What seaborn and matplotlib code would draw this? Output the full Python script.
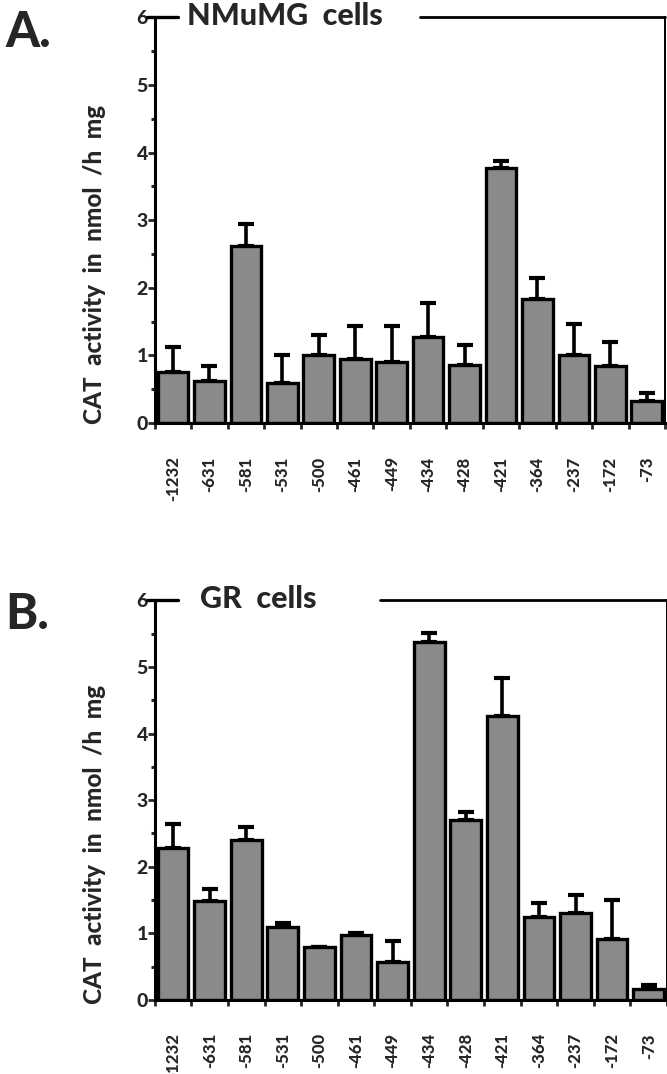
import numpy as np
import pandas as pd
import matplotlib
matplotlib.use("Agg")
import matplotlib.pyplot as plt
from matplotlib import font_manager
import seaborn as sns

sns.set_theme(style="white")

heavy = [f for f in font_manager.fontManager.ttflist
         if f.name in ("Lato", "Inter", "Open Sans", "Roboto", "Noto Sans")
         and isinstance(f.weight, int) and f.weight >= 800 and f.style == "normal"]
names = sorted({(f.name, f.weight) for f in heavy})
if any(n == "Lato" for n, w in names):
    FAM, WT = "Lato", 900
elif names:
    FAM, WT = names[0][0], names[0][1]
else:
    FAM, WT = "Liberation Sans", "bold"
plt.rcParams['font.family'] = [FAM, 'Liberation Sans', 'DejaVu Sans']
plt.rcParams['font.weight'] = WT

positions = ["-1232", "-631", "-581", "-531", "-500", "-461", "-449",
             "-434", "-428", "-421", "-364", "-237", "-172", "-73"]

nmumg_values = [0.75, 0.63, 2.62, 0.60, 1.00, 0.95, 0.90,
                1.27, 0.86, 3.77, 1.84, 1.00, 0.85, 0.33]
nmumg_err = [0.37, 0.22, 0.33, 0.40, 0.30, 0.48, 0.53,
             0.51, 0.29, 0.11, 0.31, 0.47, 0.35, 0.12]

gr_values = [2.28, 1.48, 2.40, 1.10, 0.80, 0.97, 0.57,
             5.37, 2.70, 4.27, 1.25, 1.30, 0.92, 0.16]
gr_err = [0.36, 0.19, 0.19, 0.05, 0.00, 0.03, 0.32,
          0.14, 0.12, 0.56, 0.21, 0.27, 0.58, 0.06]

yticks = [0, 1, 2, 3, 4, 5, 6]
ylabel = "CAT  activity  in  nmol  /h  mg"

fig = plt.figure(figsize=(6.67, 10.74), dpi=100)

panels = [
    ("A.", "NMuMG  cells", nmumg_values, nmumg_err, [0.232, 0.606, 0.765, 0.378], 0.063, 0.52, 0.991),
    ("B.", "GR  cells", gr_values, gr_err, [0.232, 0.069, 0.768, 0.372], 0.088, 0.44, 0.449),
]

for letter, title, vals, errs, rect, title_x, line_start, letter_y in panels:
    ax = fig.add_axes(rect)
    df = pd.DataFrame({"pos": positions, "val": vals})
    sns.barplot(data=df, x="pos", y="val", ax=ax, color="#8a8a8a",
                saturation=1, edgecolor="black", linewidth=2.4, width=0.84,
                errorbar=None)
    centers = [p.get_x() + p.get_width() / 2 for p in ax.patches]
    heights = [p.get_height() for p in ax.patches]
    ax.errorbar(centers, heights, yerr=[np.zeros(len(errs)), errs], fmt="none",
                ecolor="black", elinewidth=2.6, capsize=6, capthick=3, zorder=1)
    for p in ax.patches:
        p.set_zorder(2)

    ax.set_ylim(0, 6)
    ax.set_xlim(-0.5, 13.45)
    ax.set_yticks(yticks)
    ax.set_yticklabels([str(t) for t in yticks])
    ax.set_yticks(np.arange(0.5, 6, 1.0), minor=True)
    ax.tick_params(axis="y", which="major", direction="out", length=5, width=2, pad=0,
                   left=True, labelsize=14)
    ax.tick_params(axis="y", which="minor", direction="out", length=3, width=2.2, left=True)
    for lab in ax.get_yticklabels():
        lab.set_fontweight(WT)

    n = len(positions)
    ax.set_xticks(np.arange(n))
    ax.set_xticklabels(positions)
    ax.tick_params(axis="x", which="major", length=0, pad=24, labelrotation=90,
                   labelsize=12)
    for lab in ax.get_xticklabels():
        lab.set_va("top")
        lab.set_ha("center")
        lab.set_fontweight(WT)
    ax.set_xticks(np.arange(-0.5, n, 1.0), minor=True)
    ax.tick_params(axis="x", which="minor", direction="out", length=4, width=2, bottom=True)

    ax.set_xlabel("")
    ax.set_ylabel("")
    ax.text(-0.118, 0.39, ylabel, transform=ax.transAxes, rotation=90,
            fontsize=17.5, fontweight=WT, ha="center", va="center")

    for s in ["left", "bottom", "right"]:
        ax.spines[s].set_visible(True)
        ax.spines[s].set_color("black")
        ax.spines[s].set_linewidth(2.2)
    ax.spines["right"].set_linewidth(1.4)
    ax.spines["top"].set_visible(False)
    ax.axhline(6, xmin=line_start, xmax=1, color="black", lw=2, clip_on=False)
    ax.axhline(6, xmin=-0.016, xmax=0.045, color="black", lw=2.4, clip_on=False)

    ax.text(title_x, 6.02, title, transform=ax.get_yaxis_transform(), fontsize=22,
            fontweight=WT, va="center", ha="left")
    fig.text(0.008, letter_y, letter, fontsize=35, fontweight=WT, va="top", ha="left")

fig.savefig("out.png", dpi=100)
